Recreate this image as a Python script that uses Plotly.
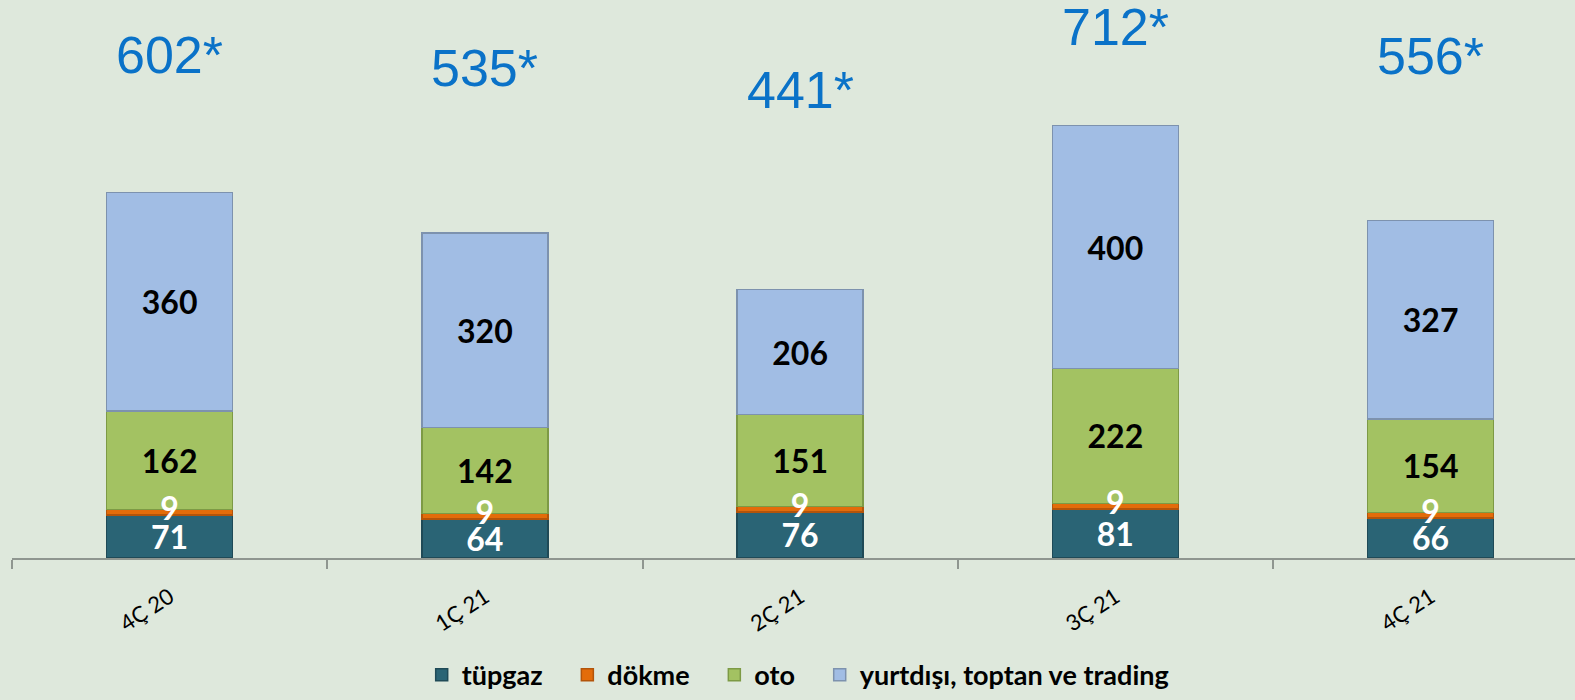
import plotly.graph_objects as go

categories = ["4Ç 20", "1Ç 21", "2Ç 21", "3Ç 21", "4Ç 21"]
tupgaz = [71, 64, 76, 81, 66]
dokme = [9, 9, 9, 9, 9]
oto = [162, 142, 151, 222, 154]
yurtdisi = [360, 320, 206, 400, 327]
totals = [602, 535, 441, 712, 556]
total_labels = ["602*", "535*", "441*", "712*", "556*"]
total_label_y = [829, 807, 771, 875, 827]

NB = "\u00a0" * 3
series = [
    ("tüpgaz" + NB, tupgaz, "#2a6475", "#1f4a57", "white", True),
    ("dökme" + NB, dokme, "#e36c0a", "#b3540a", "white", False),
    ("oto" + NB, oto, "#a3c262", "#7d9a45", "black", True),
    ("yurtdışı, toptan ve trading", yurtdisi, "#a1bde4", "#7d92ae", "black", True),
]

fig = go.Figure()
for name, vals, col, edge, tcol, show_text in series:
    fig.add_trace(go.Bar(
        x=categories, y=vals, name=name,
        marker=dict(color=col, line=dict(color=edge, width=1.5)),
        text=[str(v) for v in vals] if show_text else None,
        textposition="inside" if show_text else "none",
        insidetextanchor="middle",
        constraintext="none", textangle=0,
        textfont=dict(family="Lato", size=32, color=tcol, weight="bold"),
    ))

# dökme labels drawn as text over the thin segment
dokme_mid = [t + d / 2 for t, d in zip(tupgaz, dokme)]
fig.add_trace(go.Scatter(
    x=categories, y=dokme_mid, mode="text", text=[str(v) for v in dokme],
    textposition="middle center", showlegend=False, hoverinfo="skip",
    textfont=dict(family="Lato", size=32, color="white", weight="bold"),
    cliponaxis=False,
))

for c, lab, yy in zip(categories, total_labels, total_label_y):
    fig.add_annotation(x=c, y=yy, text=lab, showarrow=False,
                       font=dict(family="Liberation Sans, Arial", size=52, color="#0a72c8"),
                       xanchor="center", yanchor="middle")

fig.update_layout(
    width=1575, height=700,
    barmode="stack", bargap=0.6,
    paper_bgcolor="#dee8dc", plot_bgcolor="#dee8dc",
    margin=dict(l=12, r=0, t=0, b=142),
    showlegend=True,
    legend=dict(orientation="h", x=0.503, xanchor="center", y=-0.21, yanchor="middle",
                traceorder="normal",
                font=dict(family="Lato", size=27, color="black", weight="bold"),
                itemwidth=30, bgcolor="rgba(0,0,0,0)"),
    xaxis=dict(range=[-0.5, 4.458], showline=True, linecolor="#8f9690", linewidth=1.5,
               ticks="outside", tickson="boundaries", ticklen=9, tickcolor="#8f9690",
               tickwidth=1.5, tickangle=-33, ticklabelstandoff=16,
               tickfont=dict(family="Lato", size=22, color="black"),
               showgrid=False, zeroline=False),
    yaxis=dict(range=[0, 919], visible=False, showgrid=False, zeroline=False),
)

fig.write_html("out.html", config={"displayModeBar": False},
               post_script="document.body.style.margin='0';document.body.style.background='#dee8dc';")
